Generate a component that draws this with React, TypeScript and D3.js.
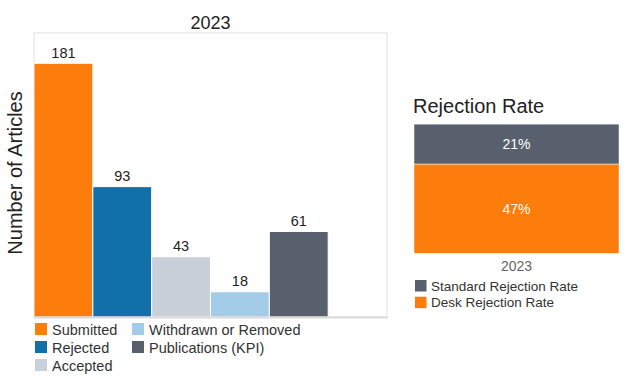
import React from "react";
import * as d3 from "d3";

const categories = ["Submitted", "Rejected", "Accepted", "Withdrawn or Removed", "Publications (KPI)"];
const counts = [181, 93, 43, 18, 61];
const barColors = ["#fc7d0b", "#1170aa", "#c8d0d9", "#a3cce9", "#57606c"];

const rateYear = "2023";
const rateSeries = ["Desk Rejection Rate", "Standard Rejection Rate"];
const rateValues = [47, 21];
const rateColors = ["#fc7d0b", "#57606c"];

const FONT = "'Liberation Sans', Arial, sans-serif";

export default function App() {
  // left chart frame
  const fx0 = 34, fx1 = 387, fy0 = 33, fy1 = 317;
  const slot = (fx1 - fx0) / 6;
  const x = d3.scaleBand<string>().domain(categories).range([fx0, fx0 + slot * 5]).padding(0);
  const y = d3.scaleLinear().domain([0, 202.6]).range([fy1, fy0]);

  // right chart
  const rx0 = 414, rx1 = 619;
  const ry = d3.scaleLinear().domain([0, 100]).range([253.3, 63.3]);
  let acc = 0;
  const stacks = rateValues.map((v, i) => {
    const s = { y0: acc, y1: acc + v, v, color: rateColors[i], name: rateSeries[i] };
    acc += v;
    return s;
  });

  const legendLeft = [
    { i: 0, x: 35, y: 323 },
    { i: 1, x: 35, y: 341 },
    { i: 2, x: 35, y: 359 },
    { i: 3, x: 132, y: 323 },
    { i: 4, x: 132, y: 341 },
  ];

  return (
    <svg width={628} height={379} style={{ position: "absolute", left: 0, top: 0, background: "#fff" }} fontFamily={FONT}>
      <rect x={0} y={0} width={628} height={379} fill="#fff" />
      <text x={(fx0 + fx1) / 2} y={28.5} textAnchor="middle" fontSize={18} fill="#222">2023</text>
      <text transform={`translate(22,173) rotate(-90)`} textAnchor="middle" fontSize={20} fill="#222">Number of Articles</text>
      {/* frame */}
      <rect x={fx0} y={fy0} width={fx1 - fx0} height={fy1 - fy0} fill="none" stroke="#e0e0e0" strokeWidth={1} />
      {categories.map((c, i) => (
        <g key={c}>
          <rect x={x(c)!} y={y(counts[i])} width={x.bandwidth()} height={fy1 - y(counts[i])} fill={barColors[i]} stroke="#fff" strokeWidth={1} />
          <text x={x(c)! + x.bandwidth() / 2} y={y(counts[i]) - 5.5} textAnchor="middle" fontSize={14.5} fill="#222">{counts[i]}</text>
        </g>
      ))}
      <line x1={fx0} x2={fx1 + 0.5} y1={fy1 + 0.5} y2={fy1 + 0.5} stroke="#d9d9d9" strokeWidth={2} />
      {legendLeft.map(({ i, x: lx, y: ly }) => (
        <g key={i}>
          <rect x={lx} y={ly} width={12} height={12} fill={barColors[i]} />
          <text x={lx + 17} y={ly + 11.5} fontSize={14.5} fill="#333">{categories[i]}</text>
        </g>
      ))}

      {/* right chart */}
      <text x={413} y={113} fontSize={20} fill="#222">Rejection Rate</text>
      {stacks.map((s) => (
        <g key={s.name}>
          <rect x={rx0} y={ry(s.y1)} width={rx1 - rx0} height={ry(s.y0) - ry(s.y1)} fill={s.color} stroke="#fff" strokeWidth={0.5} />
          <text x={(rx0 + rx1) / 2} y={(ry(s.y0) + ry(s.y1)) / 2 + 5} textAnchor="middle" fontSize={14} fill="#fff">{s.v}%</text>
        </g>
      ))}
      <text x={(rx0 + rx1) / 2} y={271} textAnchor="middle" fontSize={14} fill="#666">{rateYear}</text>
      {[1, 0].map((i, k) => (
        <g key={i}>
          <rect x={415} y={280 + k * 16.7} width={11.5} height={11.5} fill={rateColors[i]} />
          <text x={431} y={290.5 + k * 16.7} fontSize={13.5} fill="#333">{rateSeries[i]}</text>
        </g>
      ))}
    </svg>
  );
}
